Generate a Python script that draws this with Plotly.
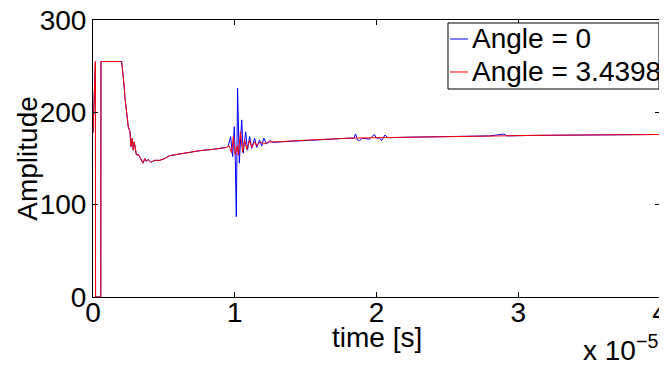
import plotly.graph_objects as go

# time in units of 1e-5 s
t_blue = [0, 0.017, 0.018, 0.055, 0.056, 0.202, 0.207, 0.214, 0.221, 0.225, 0.23, 0.237, 0.244, 0.249,
          0.261, 0.268, 0.277, 0.284, 0.291, 0.30, 0.306, 0.322, 0.337, 0.353, 0.365, 0.376, 0.388, 0.41,
          0.435, 0.47, 0.506, 0.54, 0.576, 0.61, 0.68, 0.755, 0.85, 0.943, 0.955, 0.971, 0.985, 0.997,
          1.004, 1.011, 1.02, 1.032, 1.049, 1.06, 1.077, 1.09, 1.105, 1.12, 1.14, 1.155, 1.175, 1.19,
          1.205, 1.224, 1.25, 1.27, 1.32, 1.46, 1.6, 1.8, 1.84, 1.853, 1.865, 1.88, 1.9, 1.95, 1.985,
          2.0, 2.02, 2.036, 2.06, 2.08, 2.2, 2.5, 2.8, 2.9, 2.92, 3.1, 3.436, 3.7, 3.999, 4.0]
amp_blue = [178, 255, 0, 0, 255, 255, 248, 240, 226, 217, 210, 194, 190, 184,
            179, 163, 172, 159, 168, 157, 154, 154, 150, 145, 150, 147, 149, 146,
            148, 148, 150, 153, 154, 155, 157, 158.5, 160, 162, 164, 173.7, 152, 184.5,
            148, 87, 226, 145, 191.8, 155.7, 179, 159, 173.7, 161, 172, 162, 170, 163.6,
            172, 165.8, 169.4, 167.4, 168, 169.4, 170.8, 172, 172, 176.6, 170, 169.4, 172, 171, 175.9,
            172, 172.5, 169.4, 175.5, 172.5, 173, 174, 174.5, 176.5, 174.5, 175, 175.5, 176, 176, 0]

t_red = [0, 0.017, 0.018, 0.055, 0.056, 0.202, 0.207, 0.214, 0.221, 0.225, 0.23, 0.237, 0.244, 0.249,
         0.261, 0.268, 0.277, 0.284, 0.291, 0.30, 0.306, 0.322, 0.337, 0.353, 0.365, 0.376, 0.388, 0.41,
         0.435, 0.47, 0.506, 0.54, 0.576, 0.61, 0.68, 0.755, 0.85, 0.943, 0.96, 0.978, 0.99, 1.004,
         1.018, 1.025, 1.04, 1.055, 1.07, 1.085, 1.105, 1.12, 1.14, 1.155, 1.18, 1.205, 1.24, 1.3,
         1.45, 1.6, 1.8, 2.0, 2.2, 2.5, 2.8, 3.1, 3.436, 3.7, 3.999, 4.0]
amp_red = [178, 255, 0, 0, 255, 255, 248, 240, 226, 217, 210, 194, 190, 184,
           179, 163, 172, 159, 168, 157, 154, 154, 150, 145, 150, 147, 149, 146,
           148, 148, 150, 153, 154, 155, 157, 158.5, 160, 162, 164, 156, 173.7, 153.8,
           164, 153.8, 179, 157, 170, 160, 169.4, 162, 168, 163.6, 168, 165.8, 168, 168,
           169.4, 170.8, 172, 172.5, 173, 174, 174.5, 175, 175.5, 176, 176, 0]

assert len(t_blue) == len(amp_blue) and len(t_red) == len(amp_red)

series_names = ["Angle = 0", "Angle = 3.4398"]
series_colors = ["rgb(0,0,255)", "rgb(255,0,0)"]

x_tickvals = [0, 1, 2, 3, 4]
x_ticktext = ["0", "1", "2", "3", "4"]
y_tickvals = [0, 100, 200, 300]
y_ticktext = ["0", "100", "200", "300"]

FONT = "Liberation Sans, Arial, sans-serif"
FS = 28

fig = go.Figure()
fig.add_trace(go.Scatter(x=t_blue, y=amp_blue, mode="lines", name=series_names[0],
                         line=dict(color=series_colors[0], width=1)))
fig.add_trace(go.Scatter(x=t_red, y=amp_red, mode="lines", name=series_names[1],
                         line=dict(color=series_colors[1], width=1)))

axis_common = dict(showline=True, linecolor="black", linewidth=1, mirror="ticks",
                   ticks="inside", ticklen=5, tickcolor="black", tickwidth=1,
                   showgrid=False, zeroline=False, automargin=False,
                   ticklabeloverflow="allow",
                   tickfont=dict(family=FONT, size=FS, color="black"))

# manual MATLAB-style legend (paper coordinates)
shapes = [dict(type="rect", xref="paper", yref="paper", x0=0.6261, x1=0.9982, y0=0.7509, y1=0.9892,
               line=dict(color="black", width=1), fillcolor="white", layer="above")]
annotations = []
leg_rows_y = [0.9314, 0.8123]
for name, col, yy in zip(series_names, series_colors, leg_rows_y):
    shapes.append(dict(type="line", xref="paper", yref="paper", x0=0.6296, x1=0.6614, y0=yy, y1=yy,
                       line=dict(color=col, width=1), layer="above"))
    annotations.append(dict(text=name, xref="paper", yref="paper", x=0.6649, y=yy + 0.002,
                            xanchor="left", yanchor="middle", showarrow=False,
                            font=dict(family=FONT, size=FS, color="black")))

annotations += [
    dict(text="Amplitude", xref="paper", yref="paper", x=-0.116, y=0.5, textangle=-90,
         xanchor="center", yanchor="middle", showarrow=False,
         font=dict(family=FONT, size=FS)),
    dict(text="time [s]", xref="paper", yref="paper", x=0.5, y=-0.148,
         xanchor="center", yanchor="middle", showarrow=False,
         font=dict(family=FONT, size=FS)),
    dict(text="x 10<sup>−5</sup>", xref="paper", yref="paper", x=1.0, y=-0.255,
         xanchor="right", yanchor="bottom", showarrow=False,
         font=dict(family=FONT, size=FS)),
]

# the page body adds an 8px margin, so the figure is 8px smaller and shifted
fig.update_layout(
    width=659, height=358,
    margin=dict(l=85, r=7, t=12, b=69, autoexpand=False),
    paper_bgcolor="white", plot_bgcolor="white",
    font=dict(family=FONT, size=FS, color="black"),
    showlegend=False,
    xaxis=dict(range=[0, 4], tickvals=x_tickvals, ticktext=x_ticktext,
               ticklabelstandoff=-10, **axis_common),
    yaxis=dict(range=[0, 300], tickvals=y_tickvals, ticktext=y_ticktext, **axis_common),
    shapes=shapes,
    annotations=annotations,
)

fig.write_html("out.html")
